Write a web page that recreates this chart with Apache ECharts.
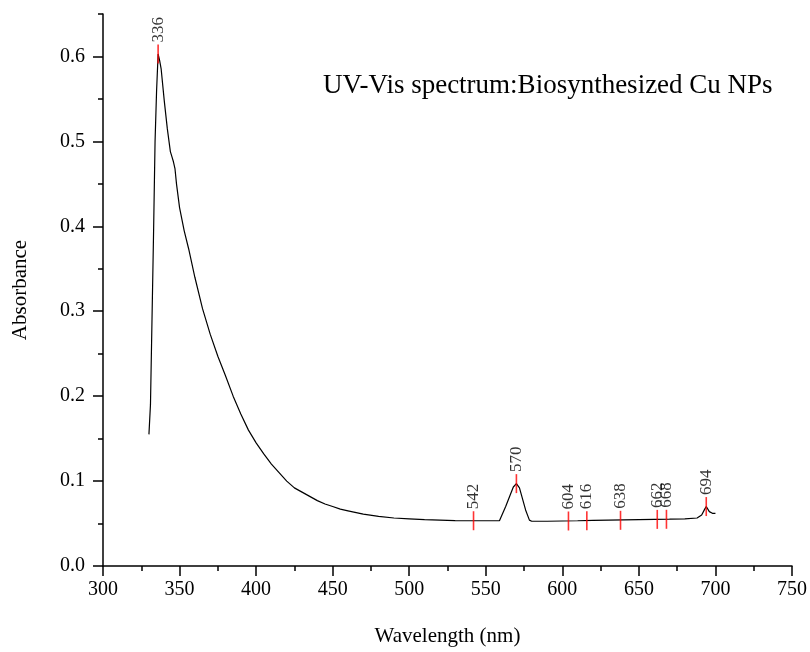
<!DOCTYPE html>
<html>
<head>
<meta charset="utf-8">
<script src="https://cdn.jsdelivr.net/npm/echarts@6/dist/echarts.min.js"></script>
<style>
html,body{margin:0;padding:0;background:#fff;}
#chart{width:810px;height:652px;}
</style>
</head>
<body>
<div id="chart"></div>
<script>
// Spectrum (wavelength nm, absorbance)
var wavelengths = [330,331,332,333,334,335,336,337,338,340,342,344,345,346,347,348,350,353,356,360,365,370,375,380,385,390,395,400,405,410,415,420,425,430,435,440,445,450,455,460,470,480,490,500,510,520,530,540,550,559,563,566,568,570,572,574,576,578.5,580,590,600,610,620,630,640,650,660,670,680,688,691,693,694,696,698,700];
var absorbance  = [0.155,0.19,0.29,0.39,0.50,0.56,0.603,0.595,0.585,0.548,0.515,0.488,0.482,0.476,0.468,0.45,0.422,0.395,0.373,0.340,0.303,0.273,0.247,0.224,0.200,0.179,0.160,0.145,0.132,0.120,0.110,0.100,0.092,0.087,0.082,0.077,0.073,0.070,0.067,0.065,0.061,0.0585,0.0565,0.0555,0.0545,0.054,0.0535,0.0533,0.0533,0.0535,0.07,0.084,0.093,0.097,0.092,0.079,0.066,0.054,0.0527,0.0527,0.053,0.0533,0.0537,0.054,0.0543,0.0546,0.0549,0.0552,0.0556,0.0565,0.06,0.067,0.070,0.064,0.062,0.062];
// Peak markers
var peakWavelengths = [336,542,570,604,616,638,662,668,694];
var peakAbsorbance  = [0.603,0.0533,0.097,0.053,0.0533,0.0538,0.0549,0.055,0.070];
var xTicks = [300,350,400,450,500,550,600,650,700,750];
var yTicks = [0,0.1,0.2,0.3,0.4,0.5,0.6];
var titleText = 'UV-Vis spectrum:Biosynthesized Cu NPs';

var FONT = '"Liberation Serif","Times New Roman",serif';
var lineData = wavelengths.map(function(w,i){return [w, absorbance[i]];});
var peakData = peakWavelengths.map(function(w,i){return [w, peakAbsorbance[i]];});

var chart = echarts.init(document.getElementById('chart'), null, {renderer:'canvas'});
chart.setOption({
  backgroundColor:'#fff',
  animation:false,
  grid:{left:103,right:17,top:14,bottom:86,containLabel:false},
  xAxis:{
    type:'value', min:300, max:750, interval:50,
    name:'Wavelength (nm)', nameLocation:'middle', nameGap:60,
    nameTextStyle:{fontFamily:FONT,fontSize:21,color:'#000'},
    axisLine:{show:true,onZero:false,lineStyle:{color:'#000',width:1.5}},
    axisTick:{show:true,inside:false,length:10,lineStyle:{color:'#000',width:1.5}},
    minorTick:{show:true,splitNumber:2,length:5,lineStyle:{color:'#000',width:1.5}},
    axisLabel:{fontFamily:FONT,fontSize:20,color:'#000',margin:14},
    splitLine:{show:false}
  },
  yAxis:[{
    type:'value', min:0, max:0.65, interval:0.05,
    name:'Absorbance', nameLocation:'middle', nameGap:72,
    nameTextStyle:{fontFamily:FONT,fontSize:21,color:'#000'},
    axisLine:{show:true,onZero:false,lineStyle:{color:'#000',width:1.5}},
    axisTick:{show:true,length:5,lineStyle:{color:'#000',width:1.5}},
    axisLabel:{show:false},
    splitLine:{show:false}
  },{
    type:'value', min:0, max:0.65, interval:0.1, position:'left', offset:0,
    axisLine:{show:false},
    axisTick:{show:true,length:10,customValues:yTicks,lineStyle:{color:'#000',width:1.5}},
    axisLabel:{show:true,customValues:yTicks,fontFamily:FONT,fontSize:20,color:'#000',margin:18,
      formatter:function(v){return v.toFixed(1);}},
    splitLine:{show:false}
  }],
  graphic:[{
    type:'text', x:323, y:86,
    style:{text:titleText, font:'27px '+FONT, fill:'#000', verticalAlign:'middle', align:'left'}
  }],
  series:[{
    type:'line', data:lineData, xAxisIndex:0, yAxisIndex:0,
    showSymbol:false, symbol:'none', smooth:false,
    lineStyle:{color:'#000',width:1.2}, z:2
  },{
    type:'scatter', data:peakData, xAxisIndex:0, yAxisIndex:0,
    symbol:'rect', symbolSize:[1.6,19],
    itemStyle:{color:'#ff0000'}, z:3,
    label:{show:true, position:'top', distance:2, rotate:90, align:'left', verticalAlign:'middle',
      fontFamily:FONT, fontSize:17, color:'#000',
      formatter:function(p){return String(p.value[0]);}},
    emphasis:{disabled:true}
  }]
});
</script>
</body>
</html>
